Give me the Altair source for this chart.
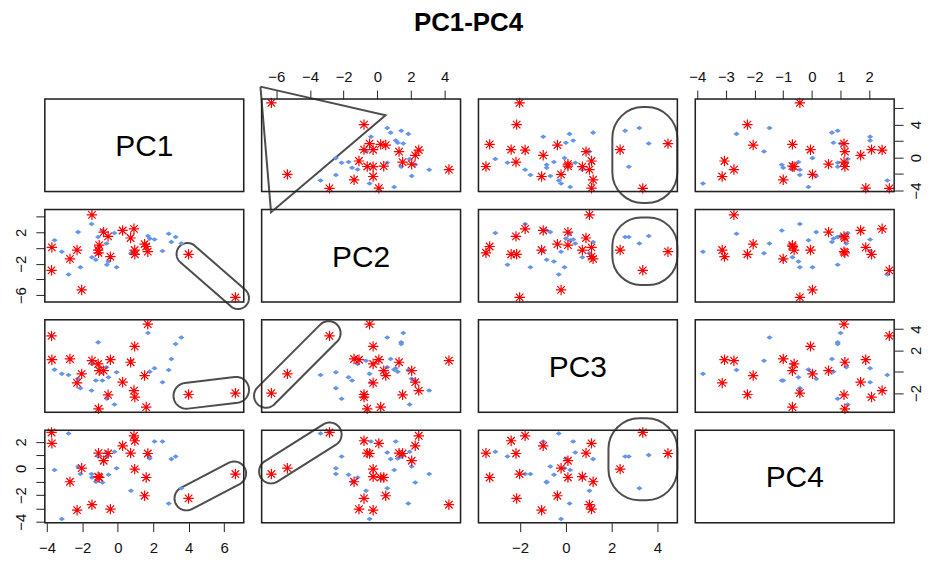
import altair as alt
import pandas as pd
import numpy as np

VARS = ["PC1", "PC2", "PC3", "PC4"]
DOMAINS = {"PC1": [-4.12, 7.1], "PC2": [-6.87, 4.94], "PC3": [-3.82, 4.87], "PC4": [-4.07, 2.87]}

# red group (asterisks)
red_pc1 = [-3.74, -3.72, -2.70, -2.30, -2.04, -1.46, -1.11, -1.09, -1.05, -0.80, -0.55, -0.42, 0.27, 0.72, 0.91, 0.95, 0.96, 1.51, 1.60, 1.69, 3.99, 6.63]
red_pc2 = [-2.84, 0.09, -1.38, -0.25, -5.34, 4.25, -0.25, -0.60, 0.38, 2.04, 1.50, -1.09, 2.25, 1.29, 2.46, -0.25, -0.79, 0.50, 0.20, -0.46, -0.79, -6.29]
red_pc3 = [3.36, 1.12, 1.19, -1.06, -0.21, 1.03, 0.72, -3.49, 0.09, 0.09, -2.18, 1.12, -0.99, 0.88, -1.78, 2.37, -2.39, -0.37, -3.33, 4.46, -2.15, -2.02]
red_pc4 = [2.70, 1.88, -1.00, -3.13, 0.02, -2.72, -0.62, 1.15, -0.68, 0.58, 1.12, -3.05, 1.70, 1.15, 2.45, -0.05, 2.08, -2.05, -0.68, 1.12, -2.25, -0.42]

# blue group (diamonds)
blue_pc1 = [-3.57, -3.16, -2.78, -2.24, -2.11, -1.48, -1.46, -1.24, -1.11, -0.87, -0.64, -0.62, -0.53, -0.19, -0.07, 0.74, 1.70, 1.80, 2.07, 2.52, 2.87, 3.02, 3.26, 3.58]
blue_pc2 = [1.00, -0.46, -3.37, 2.04, -2.46, 3.08, -1.17, -1.50, 1.42, 2.25, 0.59, -2.12, -1.71, 1.92, -2.46, -0.67, 1.54, 1.21, 1.09, -0.38, 1.84, 0.79, 1.42, 0.59]
blue_pc3 = [0.19, -0.21, -0.31, -0.68, -1.55, -1.78, 0.72, -0.84, 2.75, -0.84, 0.41, -2.55, -0.52, -3.08, -0.06, 1.03, 3.62, 0.00, 0.32, -0.99, 0.16, 1.19, 2.59, 3.21]
blue_pc4 = [-0.12, -3.80, 2.63, 0.15, -0.42, -0.42, -0.68, -1.00, 0.90, -1.05, 1.20, 0.90, -0.47, 1.25, 0.02, -1.67, 1.00, 0.75, 2.03, 2.03, -2.63, 0.70, 0.90, -1.48]

# annotation outlines (data coordinates of the panel they sit in)
triangle_x = [-6.94, 0.49, -6.31, -6.94]   # PC2
triangle_y = [8.6, 5.12, -6.64, 8.6]       # PC1
# rounded boxes: (row, col): [x0, x1, y0, y1, corner radius px]
boxes = {(0, 2): [2.03, 4.87, -5.52, 6.12, 31],
         (1, 2): [2.03, 4.87, -4.71, 3.91, 29],
         (3, 2): [1.86, 4.87, -2.38, 3.77, 31]}
# capsules: (row, col): [x_a, y_a, x_b, y_b, radius px]
capsules = {(1, 0): [3.93, -0.75, 6.78, -6.38, 11],
            (2, 0): [3.87, -2.27, 6.67, -1.71, 13],
            (2, 1): [-6.61, -2.27, -2.89, 3.62, 12],
            (3, 0): [3.87, -2.25, 6.56, -0.375, 12],
            (3, 1): [-6.31, -0.225, -2.83, 2.55, 12]}

W, H = 200, 93
FONT = "Liberation Sans"
ASTER = "M-1,0L1,0M0,-1L0,1M-0.72,-0.72L0.72,0.72M-0.72,0.72L0.72,-0.72"
DIAM = "M-1,0L0,-0.72L1,0L0,0.72Z"
SHAPE_COL = "#4d4d4d"
BORDER_COL = "#222222"

df = pd.concat([
    pd.DataFrame({"PC1": red_pc1, "PC2": red_pc2, "PC3": red_pc3, "PC4": red_pc4, "grp": "r"}),
    pd.DataFrame({"PC1": blue_pc1, "PC2": blue_pc2, "PC3": blue_pc3, "PC4": blue_pc4, "grp": "b"}),
], ignore_index=True)
frame_df = pd.DataFrame({"f": [0]})


def capsule_outline(xv, yv, spec):
    xa, ya, xb, yb, r = spec
    dx0, dx1 = DOMAINS[xv]
    dy0, dy1 = DOMAINS[yv]
    def to_px(x, y):
        return (x - dx0) / (dx1 - dx0) * W, (dy1 - y) / (dy1 - dy0) * H
    def to_data(px, py):
        return dx0 + px / W * (dx1 - dx0), dy1 - py / H * (dy1 - dy0)
    ax, ay = to_px(xa, ya)
    bx, by = to_px(xb, yb)
    th = np.arctan2(by - ay, bx - ax)
    pts = []
    for a in np.linspace(th - np.pi / 2, th + np.pi / 2, 40):
        pts.append(to_data(bx + r * np.cos(a), by + r * np.sin(a)))
    for a in np.linspace(th + np.pi / 2, th + 3 * np.pi / 2, 40):
        pts.append(to_data(ax + r * np.cos(a), ay + r * np.sin(a)))
    pts.append(pts[0])
    return pd.DataFrame({"x": [p[0] for p in pts], "y": [p[1] for p in pts], "o": list(range(len(pts)))})


def lab_expr(vals):
    cond = " || ".join(f"datum.value == {v}" for v in vals)
    return f"({cond}) ? datum.label : ''"


def make_axis(orient, values, shown=None):
    kw = dict(orient=orient, values=values, title=None, grid=False, domain=False,
              tickSize=9, tickColor="#222", labelColor="#111", labelFont=FONT,
              labelFontSize=15, labelPadding=6, labelFlush=False, labelOverlap=False)
    if shown is not None:
        kw["labelExpr"] = lab_expr(shown)
    if orient == "left":
        kw.update(labelAngle=-90, labelAlign="center", labelBaseline="bottom", labelPadding=7)
    if orient == "right":
        kw.update(labelAngle=-90, labelAlign="center", labelBaseline="top", labelPadding=5)
    if orient == "top":
        kw.update(labelPadding=6)
    if orient == "bottom":
        kw.update(labelPadding=9)
    return alt.Axis(**kw)


AXES = {
    (0, 1): {"x": make_axis("top", [-6, -4, -2, 0, 2, 4])},
    (0, 3): {"x": make_axis("top", [-4, -3, -2, -1, 0, 1, 2]),
             "y": make_axis("right", [-4, -2, 0, 2, 4, 6], [4, 0, -4])},
    (1, 0): {"y": make_axis("left", [-6, -4, -2, 0, 2, 4], [2, -2, -6])},
    (2, 3): {"y": make_axis("right", [-2, 0, 2, 4], [4, 2, -2])},
    (3, 0): {"y": make_axis("left", [-4, -3, -2, -1, 0, 1, 2], [2, 0, -2, -4]),
             "x": make_axis("bottom", [-4, -2, 0, 2, 4, 6])},
    (3, 2): {"x": make_axis("bottom", [-2, 0, 2, 4])},
}


def frame():
    return alt.Chart(frame_df).mark_rect(fill="transparent", stroke=BORDER_COL, strokeWidth=1.5).encode(
        x=alt.value(0), x2=alt.value(W), y=alt.value(0), y2=alt.value(H))


panels = []
for i, yv in enumerate(VARS):
    for j, xv in enumerate(VARS):
        if i == j:
            txt = alt.Chart(pd.DataFrame({"label": [xv]})).mark_text(
                font=FONT, fontSize=30, color="#000"
            ).encode(x=alt.value(W / 2), y=alt.value(H / 2 + 2), text="label:N")
            panels.append(alt.layer(txt, frame()).properties(width=W, height=H))
            continue
        ax = AXES.get((i, j), {})
        xs = alt.Scale(domain=DOMAINS[xv], nice=False, zero=False)
        ys = alt.Scale(domain=DOMAINS[yv], nice=False, zero=False)
        xenc = alt.X(f"{xv}:Q", scale=xs, axis=ax.get("x", None))
        yenc = alt.Y(f"{yv}:Q", scale=ys, axis=ax.get("y", None))
        base = alt.Chart(df)
        layers = []
        if (i, j) == (0, 1):
            tri = pd.DataFrame({"x": triangle_x, "y": triangle_y, "o": [0, 1, 2, 3]})
            layers.append(alt.Chart(tri).mark_line(color=SHAPE_COL, strokeWidth=2, clip=False).encode(
                x=alt.X("x:Q", scale=xs, axis=ax.get("x", None)),
                y=alt.Y("y:Q", scale=ys, axis=ax.get("y", None)), order="o:Q"))
        if (i, j) in boxes:
            x0, x1, y0, y1, rr = boxes[(i, j)]
            bd = pd.DataFrame({"x0": [x0], "x1": [x1], "y0": [y0], "y1": [y1]})
            layers.append(alt.Chart(bd).mark_rect(fill="transparent", stroke=SHAPE_COL, strokeWidth=2,
                                                  cornerRadius=rr, clip=False).encode(
                x=alt.X("x0:Q", scale=xs, axis=ax.get("x", None)), x2="x1:Q",
                y=alt.Y("y0:Q", scale=ys, axis=ax.get("y", None)), y2="y1:Q"))
        if (i, j) in capsules:
            cd = capsule_outline(xv, yv, capsules[(i, j)])
            layers.append(alt.Chart(cd).mark_line(color=SHAPE_COL, strokeWidth=2, clip=False).encode(
                x=alt.X("x:Q", scale=xs, axis=ax.get("x", None)),
                y=alt.Y("y:Q", scale=ys, axis=ax.get("y", None)), order="o:Q"))
        blue = base.transform_filter(alt.datum.grp == "b").mark_point(
            shape=DIAM, filled=True, size=40, color="#6495ED", opacity=1
        ).encode(x=xenc, y=yenc)
        red = base.transform_filter(alt.datum.grp == "r").mark_point(
            shape=ASTER, filled=False, size=110, color="#ff0000", strokeWidth=1.2, opacity=1
        ).encode(x=xenc, y=yenc)
        layers += [blue, red, frame()]
        panels.append(alt.layer(*layers).properties(width=W, height=H))

chart = alt.concat(*panels, columns=4, spacing=18, bounds="flush").properties(
    title=alt.TitleParams("PC1-PC4", font=FONT, fontSize=26, fontWeight="bold",
                          anchor="middle", color="#000", offset=33),
).configure_view(strokeWidth=0).configure(
    padding={"left": 5, "top": 0, "right": 0, "bottom": 0}, background="white"
)

chart.save("out.html", embed_options={"renderer": "svg", "actions": False})
